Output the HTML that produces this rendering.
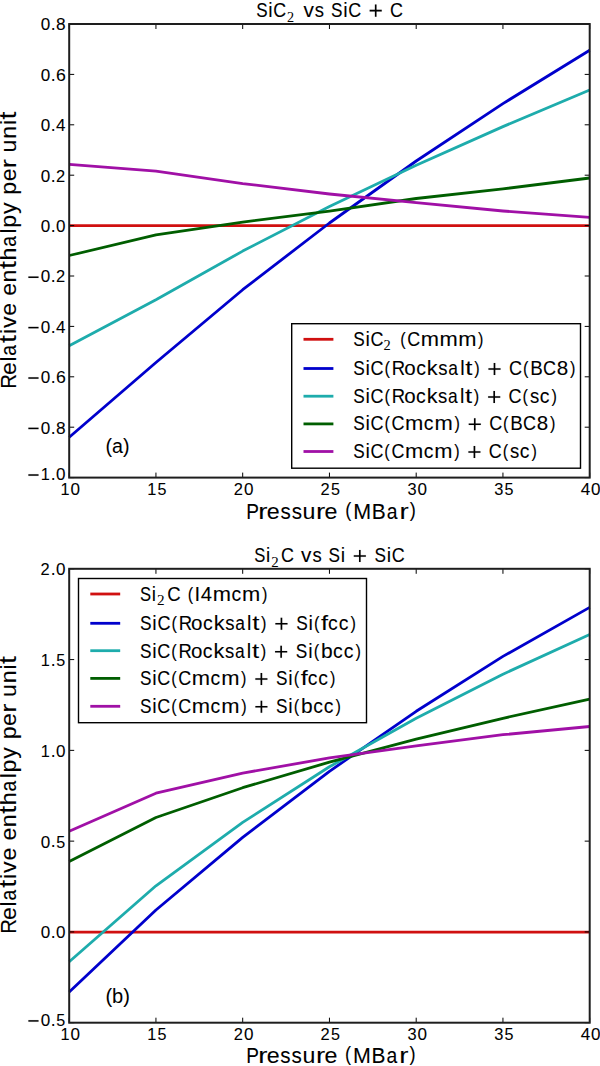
<!DOCTYPE html>
<html><head><meta charset="utf-8"><style>html,body{margin:0;padding:0;background:#fff;overflow:hidden}svg{display:block}</style></head>
<body>
<svg width="600" height="1066" viewBox="0 0 600 1066" font-family="&quot;Liberation Sans&quot;, sans-serif">
<rect width="600" height="1066" fill="#fff"/>
<polyline points="69.20,225.60 155.95,225.60 242.70,225.60 329.45,225.60 416.20,225.60 502.95,225.60 589.70,225.60" fill="none" stroke="#d01010" stroke-width="2.8" stroke-linejoin="round"/>
<polyline points="69.20,437.30 155.95,362.50 242.70,289.70 329.45,223.00 416.20,161.00 502.95,103.60 589.70,50.20" fill="none" stroke="#0000cc" stroke-width="2.8" stroke-linejoin="round"/>
<polyline points="69.20,345.70 155.95,299.70 242.70,251.10 329.45,206.40 416.20,165.20 502.95,126.60 589.70,90.00" fill="none" stroke="#1eacac" stroke-width="2.8" stroke-linejoin="round"/>
<polyline points="69.20,255.50 155.95,234.90 242.70,222.10 329.45,211.10 416.20,198.50 502.95,188.90 589.70,178.00" fill="none" stroke="#005e00" stroke-width="2.8" stroke-linejoin="round"/>
<polyline points="69.20,164.30 155.95,171.10 242.70,183.60 329.45,194.00 416.20,202.70 502.95,211.00 589.70,217.40" fill="none" stroke="#a010a6" stroke-width="2.8" stroke-linejoin="round"/>
<path d="M69.2 24.00h5M589.7 24.00h-5M69.2 74.40h5M589.7 74.40h-5M69.2 124.80h5M589.7 124.80h-5M69.2 175.20h5M589.7 175.20h-5M69.2 225.60h5M589.7 225.60h-5M69.2 276.00h5M589.7 276.00h-5M69.2 326.40h5M589.7 326.40h-5M69.2 376.80h5M589.7 376.80h-5M69.2 427.20h5M589.7 427.20h-5M69.2 477.60h5M589.7 477.60h-5M69.20 24.0v5M69.20 477.6v-5M155.95 24.0v5M155.95 477.6v-5M242.70 24.0v5M242.70 477.6v-5M329.45 24.0v5M329.45 477.6v-5M416.20 24.0v5M416.20 477.6v-5M502.95 24.0v5M502.95 477.6v-5M589.70 24.0v5M589.70 477.6v-5" stroke="#000" stroke-width="1.0" fill="none"/>
<rect x="69.2" y="24.0" width="520.50" height="453.60" fill="none" stroke="#1e1e1e" stroke-width="2.0"/>
<rect x="291.7" y="323.7" width="288.80" height="144.50" fill="#fff" stroke="#000" stroke-width="1.4"/>
<line x1="303.50" y1="339.3" x2="333.40" y2="339.3" stroke="#d01010" stroke-width="2.8"/>
<line x1="303.50" y1="368.5" x2="333.40" y2="368.5" stroke="#0000cc" stroke-width="2.8"/>
<line x1="303.50" y1="396.2" x2="333.40" y2="396.2" stroke="#1eacac" stroke-width="2.8"/>
<line x1="303.50" y1="423.9" x2="333.40" y2="423.9" stroke="#005e00" stroke-width="2.8"/>
<line x1="303.50" y1="451.5" x2="333.40" y2="451.5" stroke="#a010a6" stroke-width="2.8"/>
<polyline points="69.20,932.20 155.95,932.20 242.70,932.20 329.45,932.20 416.20,932.20 502.95,932.20 589.70,932.20" fill="none" stroke="#d01010" stroke-width="2.8" stroke-linejoin="round"/>
<polyline points="69.20,992.10 155.95,910.00 242.70,837.40 329.45,771.30 416.20,711.30 502.95,656.40 589.70,607.40" fill="none" stroke="#0000cc" stroke-width="2.8" stroke-linejoin="round"/>
<polyline points="69.20,961.70 155.95,885.80 242.70,822.40 329.45,766.80 416.20,718.20 502.95,674.20 589.70,634.60" fill="none" stroke="#1eacac" stroke-width="2.8" stroke-linejoin="round"/>
<polyline points="69.20,861.40 155.95,817.50 242.70,787.70 329.45,762.10 416.20,739.20 502.95,718.30 589.70,699.10" fill="none" stroke="#005e00" stroke-width="2.8" stroke-linejoin="round"/>
<polyline points="69.20,831.30 155.95,793.20 242.70,773.10 329.45,757.90 416.20,745.80 502.95,734.70 589.70,726.50" fill="none" stroke="#a010a6" stroke-width="2.8" stroke-linejoin="round"/>
<path d="M69.2 568.80h5M589.7 568.80h-5M69.2 659.58h5M589.7 659.58h-5M69.2 750.36h5M589.7 750.36h-5M69.2 841.14h5M589.7 841.14h-5M69.2 931.92h5M589.7 931.92h-5M69.2 1022.70h5M589.7 1022.70h-5M69.20 568.8v5M69.20 1022.7v-5M155.95 568.8v5M155.95 1022.7v-5M242.70 568.8v5M242.70 1022.7v-5M329.45 568.8v5M329.45 1022.7v-5M416.20 568.8v5M416.20 1022.7v-5M502.95 568.8v5M502.95 1022.7v-5M589.70 568.8v5M589.70 1022.7v-5" stroke="#000" stroke-width="1.0" fill="none"/>
<rect x="69.2" y="568.8" width="520.50" height="453.90" fill="none" stroke="#1e1e1e" stroke-width="2.0"/>
<rect x="78.5" y="578.5" width="288.00" height="144.20" fill="#fff" stroke="#000" stroke-width="1.4"/>
<line x1="90.30" y1="594" x2="120.20" y2="594" stroke="#d01010" stroke-width="2.8"/>
<line x1="90.30" y1="623.3" x2="120.20" y2="623.3" stroke="#0000cc" stroke-width="2.8"/>
<line x1="90.30" y1="650.7" x2="120.20" y2="650.7" stroke="#1eacac" stroke-width="2.8"/>
<line x1="90.30" y1="678.4" x2="120.20" y2="678.4" stroke="#005e00" stroke-width="2.8"/>
<line x1="90.30" y1="706.3" x2="120.20" y2="706.3" stroke="#a010a6" stroke-width="2.8"/>
<g font-size="17.20" fill="#000" stroke="#000" stroke-width="0.08"><g transform="translate(0 30.30)"><text transform="matrix(0.993 0 0 1.006 40.64 0.06)">0</text><text transform="matrix(1.019 0 0 1.092 50.68 0.00)">.</text><text transform="matrix(1.004 0 0 1.006 56.04 0.06)">8</text></g></g>
<g font-size="17.20" fill="#000" stroke="#000" stroke-width="0.08"><g transform="translate(0 80.70)"><text transform="matrix(0.993 0 0 1.006 40.64 0.06)">0</text><text transform="matrix(1.019 0 0 1.092 50.68 0.00)">.</text><text transform="matrix(1.028 0 0 1.006 55.93 0.06)">6</text></g></g>
<g font-size="17.20" fill="#000" stroke="#000" stroke-width="0.08"><g transform="translate(0 131.10)"><text transform="matrix(0.993 0 0 1.006 40.64 0.06)">0</text><text transform="matrix(1.019 0 0 1.092 50.68 0.00)">.</text><text transform="matrix(0.993 0 0 0.998 56.09 0.00)">4</text></g></g>
<g font-size="17.20" fill="#000" stroke="#000" stroke-width="0.08"><g transform="translate(0 181.50)"><text transform="matrix(0.993 0 0 1.006 40.64 0.06)">0</text><text transform="matrix(1.019 0 0 1.092 50.68 0.00)">.</text><text transform="matrix(0.957 0 0 1.001 56.05 0.00)">2</text></g></g>
<g font-size="17.20" fill="#000" stroke="#000" stroke-width="0.08"><g transform="translate(0 231.90)"><text transform="matrix(0.993 0 0 1.006 40.64 0.06)">0</text><text transform="matrix(1.019 0 0 1.092 50.68 0.00)">.</text><text transform="matrix(0.993 0 0 1.006 56.09 0.06)">0</text></g></g>
<g font-size="17.20" fill="#000" stroke="#000" stroke-width="0.08"><g transform="translate(0 282.30)"><path d="M28.38 -5.83H38.52V-4.33H28.38Z"/><text transform="matrix(0.993 0 0 1.006 40.64 0.06)">0</text><text transform="matrix(1.019 0 0 1.092 50.68 0.00)">.</text><text transform="matrix(0.957 0 0 1.001 56.05 0.00)">2</text></g></g>
<g font-size="17.20" fill="#000" stroke="#000" stroke-width="0.08"><g transform="translate(0 332.70)"><path d="M28.38 -5.83H38.52V-4.33H28.38Z"/><text transform="matrix(0.993 0 0 1.006 40.64 0.06)">0</text><text transform="matrix(1.019 0 0 1.092 50.68 0.00)">.</text><text transform="matrix(0.993 0 0 0.998 56.09 0.00)">4</text></g></g>
<g font-size="17.20" fill="#000" stroke="#000" stroke-width="0.08"><g transform="translate(0 383.10)"><path d="M28.38 -5.83H38.52V-4.33H28.38Z"/><text transform="matrix(0.993 0 0 1.006 40.64 0.06)">0</text><text transform="matrix(1.019 0 0 1.092 50.68 0.00)">.</text><text transform="matrix(1.028 0 0 1.006 55.93 0.06)">6</text></g></g>
<g font-size="17.20" fill="#000" stroke="#000" stroke-width="0.08"><g transform="translate(0 433.50)"><path d="M28.38 -5.83H38.52V-4.33H28.38Z"/><text transform="matrix(0.993 0 0 1.006 40.64 0.06)">0</text><text transform="matrix(1.019 0 0 1.092 50.68 0.00)">.</text><text transform="matrix(1.004 0 0 1.006 56.04 0.06)">8</text></g></g>
<g font-size="17.20" fill="#000" stroke="#000" stroke-width="0.08"><g transform="translate(0 480.10)"><path d="M28.38 -5.83H38.52V-4.33H28.38Z"/><text transform="matrix(0.948 0 0 0.998 40.77 0.00)">1</text><text transform="matrix(1.019 0 0 1.092 50.68 0.00)">.</text><text transform="matrix(0.993 0 0 1.006 56.09 0.06)">0</text></g></g>
<g font-size="17.20" fill="#000" stroke="#000" stroke-width="0.08"><g transform="translate(0 495.00)"><text transform="matrix(0.948 0 0 0.998 60.43 0.00)">1</text><text transform="matrix(0.993 0 0 1.006 70.60 0.06)">0</text></g></g>
<g font-size="17.20" fill="#000" stroke="#000" stroke-width="0.08"><g transform="translate(0 495.00)"><text transform="matrix(0.948 0 0 0.998 147.18 0.00)">1</text><text transform="matrix(0.937 0 0 1.003 157.55 0.06)">5</text></g></g>
<g font-size="17.20" fill="#000" stroke="#000" stroke-width="0.08"><g transform="translate(0 495.00)"><text transform="matrix(0.957 0 0 1.001 233.75 0.00)">2</text><text transform="matrix(0.993 0 0 1.006 244.10 0.06)">0</text></g></g>
<g font-size="17.20" fill="#000" stroke="#000" stroke-width="0.08"><g transform="translate(0 495.00)"><text transform="matrix(0.957 0 0 1.001 320.50 0.00)">2</text><text transform="matrix(0.937 0 0 1.003 331.05 0.06)">5</text></g></g>
<g font-size="17.20" fill="#000" stroke="#000" stroke-width="0.08"><g transform="translate(0 495.00)"><text transform="matrix(0.954 0 0 1.006 407.50 0.06)">3</text><text transform="matrix(0.993 0 0 1.006 417.60 0.06)">0</text></g></g>
<g font-size="17.20" fill="#000" stroke="#000" stroke-width="0.08"><g transform="translate(0 495.00)"><text transform="matrix(0.954 0 0 1.006 494.25 0.06)">3</text><text transform="matrix(0.937 0 0 1.003 504.55 0.06)">5</text></g></g>
<g font-size="17.20" fill="#000" stroke="#000" stroke-width="0.08"><g transform="translate(0 495.00)"><text transform="matrix(0.993 0 0 0.998 580.79 0.00)">4</text><text transform="matrix(0.993 0 0 1.006 591.10 0.06)">0</text></g></g>
<g font-size="20.20" fill="#000" stroke="#000" stroke-width="0.08"><g transform="translate(0 16.70)"><text transform="matrix(0.844 0 0 1.021 256.23 0.07)">S</text><text transform="matrix(0.967 0 0 1.002 268.37 0.00)">i</text><text transform="matrix(0.879 0 0 1.021 273.36 0.07)">C</text></g></g>
<text x="286.88" y="21.60" font-size="14.50" font-family="&quot;Liberation Serif&quot;, serif" textLength="7.11" lengthAdjust="spacingAndGlyphs" fill="#000">2</text>
<g font-size="20.20" fill="#000" stroke="#000" stroke-width="0.08"><g transform="translate(0 16.70)"><text transform="matrix(1.029 0 0 0.989 303.43 0.00)">v</text><text transform="matrix(0.914 0 0 1.004 314.86 0.08)">s</text><text transform="matrix(0.850 0 0 1.021 330.97 0.07)">S</text><text transform="matrix(0.975 0 0 1.002 343.21 0.00)">i</text><text transform="matrix(0.885 0 0 1.021 348.23 0.07)">C</text><path d="M369.67 -6.85H381.73V-5.25H369.67ZM374.90 -12.10H376.50V0H374.90Z"/><text transform="matrix(0.885 0 0 1.021 390.07 0.07)">C</text></g></g>
<g font-size="19.80" fill="#000" stroke="#000" stroke-width="0.08"><g transform="translate(0 346.00)"><text transform="matrix(0.869 0 0 1.041 353.22 0.07)">S</text><text transform="matrix(0.996 0 0 1.022 365.48 0.00)">i</text><text transform="matrix(0.905 0 0 1.041 370.51 0.07)">C</text></g></g>
<text x="383.56" y="350.30" font-size="14.50" font-family="&quot;Liberation Serif&quot;, serif" textLength="7.23" lengthAdjust="spacingAndGlyphs" fill="#000">2</text>
<g font-size="19.80" fill="#000" stroke="#000" stroke-width="0.08"><g transform="translate(0 346.00)"><text transform="matrix(0.821 0 0 0.932 400.19 -1.28)">(</text><text transform="matrix(0.901 0 0 1.041 407.22 0.07)">C</text><text transform="matrix(1.106 0 0 1.015 420.76 0.00)">m</text><text transform="matrix(1.106 0 0 1.015 439.49 0.00)">m</text><text transform="matrix(1.106 0 0 1.015 458.22 0.00)">m</text><text transform="matrix(0.821 0 0 0.932 478.10 -1.28)">)</text></g></g>
<g font-size="19.80" fill="#000" stroke="#000" stroke-width="0.08"><g transform="translate(0 375.00)"><text transform="matrix(0.872 0 0 1.041 353.22 0.07)">S</text><text transform="matrix(1.000 0 0 1.022 365.51 0.00)">i</text><text transform="matrix(0.908 0 0 1.041 370.57 0.07)">C</text><text transform="matrix(0.827 0 0 0.932 384.56 -1.28)">(</text><text transform="matrix(0.935 0 0 1.033 391.85 0.00)">R</text><text transform="matrix(1.040 0 0 1.022 404.25 0.08)">o</text><text transform="matrix(0.981 0 0 1.022 416.14 0.08)">c</text><text transform="matrix(1.093 0 0 1.022 426.84 0.00)">k</text><text transform="matrix(0.937 0 0 1.024 438.28 0.08)">s</text><text transform="matrix(0.879 0 0 1.022 448.26 0.08)">a</text><text transform="matrix(1.000 0 0 1.022 460.19 0.00)">l</text><text transform="matrix(1.307 0 0 1.046 465.21 -0.16)">t</text><text transform="matrix(0.827 0 0 0.932 474.13 -1.28)">)</text><path d="M488.43 -6.85H500.55V-5.25H488.43ZM493.69 -12.10H495.29V0H493.69Z"/><text transform="matrix(0.908 0 0 1.041 508.93 0.07)">C</text><text transform="matrix(0.827 0 0 0.932 522.93 -1.28)">(</text><text transform="matrix(0.950 0 0 1.033 530.19 0.00)">B</text><text transform="matrix(0.908 0 0 1.041 542.95 0.07)">C</text><text transform="matrix(1.042 0 0 1.041 556.71 0.07)">8</text><text transform="matrix(0.827 0 0 0.932 570.06 -1.28)">)</text></g></g>
<g font-size="19.80" fill="#000" stroke="#000" stroke-width="0.08"><g transform="translate(0 403.00)"><text transform="matrix(0.870 0 0 1.041 353.22 0.07)">S</text><text transform="matrix(0.997 0 0 1.022 365.49 0.00)">i</text><text transform="matrix(0.906 0 0 1.041 370.53 0.07)">C</text><text transform="matrix(0.825 0 0 0.932 384.49 -1.28)">(</text><text transform="matrix(0.933 0 0 1.033 391.76 0.00)">R</text><text transform="matrix(1.037 0 0 1.022 404.14 0.08)">o</text><text transform="matrix(0.979 0 0 1.022 416.00 0.08)">c</text><text transform="matrix(1.091 0 0 1.022 426.68 0.00)">k</text><text transform="matrix(0.935 0 0 1.024 438.10 0.08)">s</text><text transform="matrix(0.877 0 0 1.022 448.05 0.08)">a</text><text transform="matrix(0.997 0 0 1.022 459.96 0.00)">l</text><text transform="matrix(1.304 0 0 1.046 464.96 -0.16)">t</text><text transform="matrix(0.825 0 0 0.932 473.86 -1.28)">)</text><path d="M488.13 -6.85H500.22V-5.25H488.13ZM493.38 -12.10H494.98V0H493.38Z"/><text transform="matrix(0.906 0 0 1.041 508.59 0.07)">C</text><text transform="matrix(0.825 0 0 0.932 522.55 -1.28)">(</text><text transform="matrix(0.935 0 0 1.024 529.97 0.08)">s</text><text transform="matrix(0.979 0 0 1.022 539.74 0.08)">c</text><text transform="matrix(0.825 0 0 0.932 551.57 -1.28)">)</text></g></g>
<g font-size="19.80" fill="#000" stroke="#000" stroke-width="0.08"><g transform="translate(0 430.30)"><text transform="matrix(0.869 0 0 1.041 353.22 0.07)">S</text><text transform="matrix(0.996 0 0 1.022 365.48 0.00)">i</text><text transform="matrix(0.905 0 0 1.041 370.51 0.07)">C</text><text transform="matrix(0.824 0 0 0.932 384.46 -1.28)">(</text><text transform="matrix(0.905 0 0 1.041 391.51 0.07)">C</text><text transform="matrix(1.110 0 0 1.015 405.11 0.00)">m</text><text transform="matrix(0.978 0 0 1.022 423.85 0.08)">c</text><text transform="matrix(1.110 0 0 1.015 434.51 0.00)">m</text><text transform="matrix(0.824 0 0 0.932 454.47 -1.28)">)</text><path d="M468.72 -6.85H480.80V-5.25H468.72ZM473.96 -12.10H475.56V0H473.96Z"/><text transform="matrix(0.905 0 0 1.041 489.15 0.07)">C</text><text transform="matrix(0.824 0 0 0.932 503.10 -1.28)">(</text><text transform="matrix(0.947 0 0 1.033 510.34 0.00)">B</text><text transform="matrix(0.905 0 0 1.041 523.05 0.07)">C</text><text transform="matrix(1.038 0 0 1.041 536.77 0.07)">8</text><text transform="matrix(0.824 0 0 0.932 550.08 -1.28)">)</text></g></g>
<g font-size="19.80" fill="#000" stroke="#000" stroke-width="0.08"><g transform="translate(0 458.00)"><text transform="matrix(0.866 0 0 1.041 353.22 0.07)">S</text><text transform="matrix(0.993 0 0 1.022 365.44 0.00)">i</text><text transform="matrix(0.902 0 0 1.041 370.47 0.07)">C</text><text transform="matrix(0.821 0 0 0.932 384.37 -1.28)">(</text><text transform="matrix(0.902 0 0 1.041 391.41 0.07)">C</text><text transform="matrix(1.107 0 0 1.015 404.96 0.00)">m</text><text transform="matrix(0.975 0 0 1.022 423.66 0.08)">c</text><text transform="matrix(1.107 0 0 1.015 434.28 0.00)">m</text><text transform="matrix(0.821 0 0 0.932 454.18 -1.28)">)</text><path d="M468.40 -6.85H480.44V-5.25H468.40ZM473.62 -12.10H475.22V0H473.62Z"/><text transform="matrix(0.902 0 0 1.041 488.77 0.07)">C</text><text transform="matrix(0.821 0 0 0.932 502.68 -1.28)">(</text><text transform="matrix(0.932 0 0 1.024 510.07 0.08)">s</text><text transform="matrix(0.975 0 0 1.022 519.81 0.08)">c</text><text transform="matrix(0.821 0 0 0.932 531.59 -1.28)">)</text></g></g>
<text x="105.48" y="453.00" font-size="20.00" font-family="&quot;Liberation Sans&quot;, sans-serif" textLength="24.04" lengthAdjust="spacingAndGlyphs" fill="#000">(a)</text>
<g font-size="21.50" fill="#000" stroke="#000" stroke-width="0.08"><g transform="translate(0 518.50)"><text transform="matrix(0.886 0 0 1.057 246.14 0.00)">P</text><text transform="matrix(1.284 0 0 1.038 258.32 0.00)">r</text><text transform="matrix(1.082 0 0 1.046 266.78 0.08)">e</text><text transform="matrix(0.960 0 0 1.048 280.43 0.08)">s</text><text transform="matrix(0.960 0 0 1.048 291.65 0.08)">s</text><text transform="matrix(1.080 0 0 1.065 302.60 0.08)">u</text><text transform="matrix(1.284 0 0 1.038 316.06 0.00)">r</text><text transform="matrix(1.082 0 0 1.046 324.52 0.08)">e</text><text transform="matrix(0.847 0 0 0.954 345.14 -1.42)">(</text><text transform="matrix(0.999 0 0 1.057 353.18 0.00)">M</text><text transform="matrix(0.973 0 0 1.057 371.81 0.00)">B</text><text transform="matrix(0.901 0 0 1.046 386.66 0.08)">a</text><text transform="matrix(1.284 0 0 1.038 399.51 0.00)">r</text><text transform="matrix(0.847 0 0 0.954 409.87 -1.42)">)</text></g></g>
<g font-size="17.20" fill="#000" stroke="#000" stroke-width="0.08"><g transform="translate(0 575.10)"><text transform="matrix(0.957 0 0 1.001 40.60 0.00)">2</text><text transform="matrix(1.019 0 0 1.092 50.68 0.00)">.</text><text transform="matrix(0.993 0 0 1.006 56.09 0.06)">0</text></g></g>
<g font-size="17.20" fill="#000" stroke="#000" stroke-width="0.08"><g transform="translate(0 665.88)"><text transform="matrix(0.948 0 0 0.998 40.77 0.00)">1</text><text transform="matrix(1.019 0 0 1.092 50.68 0.00)">.</text><text transform="matrix(0.937 0 0 1.003 56.30 0.06)">5</text></g></g>
<g font-size="17.20" fill="#000" stroke="#000" stroke-width="0.08"><g transform="translate(0 756.66)"><text transform="matrix(0.948 0 0 0.998 40.77 0.00)">1</text><text transform="matrix(1.019 0 0 1.092 50.68 0.00)">.</text><text transform="matrix(0.993 0 0 1.006 56.09 0.06)">0</text></g></g>
<g font-size="17.20" fill="#000" stroke="#000" stroke-width="0.08"><g transform="translate(0 847.44)"><text transform="matrix(0.993 0 0 1.006 40.64 0.06)">0</text><text transform="matrix(1.019 0 0 1.092 50.68 0.00)">.</text><text transform="matrix(0.937 0 0 1.003 56.30 0.06)">5</text></g></g>
<g font-size="17.20" fill="#000" stroke="#000" stroke-width="0.08"><g transform="translate(0 938.22)"><text transform="matrix(0.993 0 0 1.006 40.64 0.06)">0</text><text transform="matrix(1.019 0 0 1.092 50.68 0.00)">.</text><text transform="matrix(0.993 0 0 1.006 56.09 0.06)">0</text></g></g>
<g font-size="17.20" fill="#000" stroke="#000" stroke-width="0.08"><g transform="translate(0 1026.00)"><path d="M28.38 -5.83H38.52V-4.33H28.38Z"/><text transform="matrix(0.993 0 0 1.006 40.64 0.06)">0</text><text transform="matrix(1.019 0 0 1.092 50.68 0.00)">.</text><text transform="matrix(0.937 0 0 1.003 56.30 0.06)">5</text></g></g>
<g font-size="17.20" fill="#000" stroke="#000" stroke-width="0.08"><g transform="translate(0 1040.00)"><text transform="matrix(0.948 0 0 0.998 60.43 0.00)">1</text><text transform="matrix(0.993 0 0 1.006 70.60 0.06)">0</text></g></g>
<g font-size="17.20" fill="#000" stroke="#000" stroke-width="0.08"><g transform="translate(0 1040.00)"><text transform="matrix(0.948 0 0 0.998 147.18 0.00)">1</text><text transform="matrix(0.937 0 0 1.003 157.55 0.06)">5</text></g></g>
<g font-size="17.20" fill="#000" stroke="#000" stroke-width="0.08"><g transform="translate(0 1040.00)"><text transform="matrix(0.957 0 0 1.001 233.75 0.00)">2</text><text transform="matrix(0.993 0 0 1.006 244.10 0.06)">0</text></g></g>
<g font-size="17.20" fill="#000" stroke="#000" stroke-width="0.08"><g transform="translate(0 1040.00)"><text transform="matrix(0.957 0 0 1.001 320.50 0.00)">2</text><text transform="matrix(0.937 0 0 1.003 331.05 0.06)">5</text></g></g>
<g font-size="17.20" fill="#000" stroke="#000" stroke-width="0.08"><g transform="translate(0 1040.00)"><text transform="matrix(0.954 0 0 1.006 407.50 0.06)">3</text><text transform="matrix(0.993 0 0 1.006 417.60 0.06)">0</text></g></g>
<g font-size="17.20" fill="#000" stroke="#000" stroke-width="0.08"><g transform="translate(0 1040.00)"><text transform="matrix(0.954 0 0 1.006 494.25 0.06)">3</text><text transform="matrix(0.937 0 0 1.003 504.55 0.06)">5</text></g></g>
<g font-size="17.20" fill="#000" stroke="#000" stroke-width="0.08"><g transform="translate(0 1040.00)"><text transform="matrix(0.993 0 0 0.998 580.79 0.00)">4</text><text transform="matrix(0.993 0 0 1.006 591.10 0.06)">0</text></g></g>
<g font-size="20.20" fill="#000" stroke="#000" stroke-width="0.08"><g transform="translate(0 562.00)"><text transform="matrix(0.821 0 0 1.021 254.25 0.07)">S</text><text transform="matrix(0.941 0 0 1.002 266.06 0.00)">i</text></g></g>
<text x="271.34" y="566.50" font-size="14.50" font-family="&quot;Liberation Serif&quot;, serif" textLength="7.48" lengthAdjust="spacingAndGlyphs" fill="#000">2</text>
<g font-size="20.20" fill="#000" stroke="#000" stroke-width="0.08"><g transform="translate(0 562.00)"><text transform="matrix(0.885 0 0 1.021 281.09 0.07)">C</text><text transform="matrix(1.029 0 0 0.989 300.99 0.00)">v</text><text transform="matrix(0.914 0 0 1.004 312.42 0.08)">s</text><text transform="matrix(0.850 0 0 1.021 328.54 0.07)">S</text><text transform="matrix(0.975 0 0 1.002 340.78 0.00)">i</text><path d="M353.79 -6.85H365.85V-5.25H353.79ZM359.02 -12.10H360.62V0H359.02Z"/><text transform="matrix(0.850 0 0 1.021 374.50 0.07)">S</text><text transform="matrix(0.975 0 0 1.002 386.74 0.00)">i</text><text transform="matrix(0.885 0 0 1.021 391.77 0.07)">C</text></g></g>
<g font-size="19.80" fill="#000" stroke="#000" stroke-width="0.08"><g transform="translate(0 600.80)"><text transform="matrix(0.837 0 0 1.041 140.05 0.07)">S</text><text transform="matrix(0.960 0 0 1.022 151.86 0.00)">i</text></g></g>
<text x="157.13" y="605.10" font-size="14.50" font-family="&quot;Liberation Serif&quot;, serif" textLength="7.61" lengthAdjust="spacingAndGlyphs" fill="#000">2</text>
<g font-size="19.80" fill="#000" stroke="#000" stroke-width="0.08"><g transform="translate(0 600.80)"><text transform="matrix(0.933 0 0 1.041 167.36 0.07)">C</text></g></g>
<g font-size="19.80" fill="#000" stroke="#000" stroke-width="0.08"><g transform="translate(0 600.80)"><text transform="matrix(0.821 0 0 0.932 187.69 -1.28)">(</text><text transform="matrix(1.027 0 0 1.033 194.56 0.00)">I</text><text transform="matrix(1.023 0 0 1.033 200.69 0.00)">4</text><text transform="matrix(1.106 0 0 1.015 212.73 0.00)">m</text><text transform="matrix(0.974 0 0 1.022 231.41 0.08)">c</text><text transform="matrix(1.106 0 0 1.015 242.02 0.00)">m</text><text transform="matrix(0.821 0 0 0.932 261.90 -1.28)">)</text></g></g>
<g font-size="19.80" fill="#000" stroke="#000" stroke-width="0.08"><g transform="translate(0 629.80)"><text transform="matrix(0.873 0 0 1.041 140.02 0.07)">S</text><text transform="matrix(1.001 0 0 1.022 152.33 0.00)">i</text><text transform="matrix(0.909 0 0 1.041 157.38 0.07)">C</text><text transform="matrix(0.827 0 0 0.932 171.39 -1.28)">(</text><text transform="matrix(0.936 0 0 1.033 178.69 0.00)">R</text><text transform="matrix(1.041 0 0 1.022 191.10 0.08)">o</text><text transform="matrix(0.982 0 0 1.022 203.00 0.08)">c</text><text transform="matrix(1.094 0 0 1.022 213.71 0.00)">k</text><text transform="matrix(0.938 0 0 1.024 225.17 0.08)">s</text><text transform="matrix(0.880 0 0 1.022 235.16 0.08)">a</text><text transform="matrix(1.001 0 0 1.022 247.10 0.00)">l</text><text transform="matrix(1.308 0 0 1.046 252.13 -0.16)">t</text><text transform="matrix(0.827 0 0 0.932 261.05 -1.28)">)</text><path d="M275.37 -6.85H287.51V-5.25H275.37ZM280.64 -12.10H282.24V0H280.64Z"/><text transform="matrix(0.873 0 0 1.041 296.21 0.07)">S</text><text transform="matrix(1.001 0 0 1.022 308.52 0.00)">i</text><text transform="matrix(0.827 0 0 0.932 314.06 -1.28)">(</text><text transform="matrix(1.285 0 0 1.023 321.05 0.00)">f</text><text transform="matrix(0.982 0 0 1.022 328.04 0.08)">c</text><text transform="matrix(0.982 0 0 1.022 338.69 0.08)">c</text><text transform="matrix(0.827 0 0 0.932 350.56 -1.28)">)</text></g></g>
<g font-size="19.80" fill="#000" stroke="#000" stroke-width="0.08"><g transform="translate(0 657.80)"><text transform="matrix(0.871 0 0 1.041 140.02 0.07)">S</text><text transform="matrix(0.998 0 0 1.022 152.30 0.00)">i</text><text transform="matrix(0.907 0 0 1.041 157.35 0.07)">C</text><text transform="matrix(0.826 0 0 0.932 171.33 -1.28)">(</text><text transform="matrix(0.934 0 0 1.033 178.60 0.00)">R</text><text transform="matrix(1.038 0 0 1.022 190.99 0.08)">o</text><text transform="matrix(0.980 0 0 1.022 202.87 0.08)">c</text><text transform="matrix(1.092 0 0 1.022 213.56 0.00)">k</text><text transform="matrix(0.936 0 0 1.024 224.99 0.08)">s</text><text transform="matrix(0.878 0 0 1.022 234.95 0.08)">a</text><text transform="matrix(0.998 0 0 1.022 246.87 0.00)">l</text><text transform="matrix(1.305 0 0 1.046 251.88 -0.16)">t</text><text transform="matrix(0.826 0 0 0.932 260.79 -1.28)">)</text><path d="M275.08 -6.85H287.19V-5.25H275.08ZM280.33 -12.10H281.93V0H280.33Z"/><text transform="matrix(0.871 0 0 1.041 295.87 0.07)">S</text><text transform="matrix(0.998 0 0 1.022 308.16 0.00)">i</text><text transform="matrix(0.826 0 0 0.932 313.68 -1.28)">(</text><text transform="matrix(1.063 0 0 1.027 320.98 0.07)">b</text><text transform="matrix(0.980 0 0 1.022 333.09 0.08)">c</text><text transform="matrix(0.980 0 0 1.022 343.73 0.08)">c</text><text transform="matrix(0.826 0 0 0.932 355.57 -1.28)">)</text></g></g>
<g font-size="19.80" fill="#000" stroke="#000" stroke-width="0.08"><g transform="translate(0 685.10)"><text transform="matrix(0.867 0 0 1.041 140.02 0.07)">S</text><text transform="matrix(0.995 0 0 1.022 152.26 0.00)">i</text><text transform="matrix(0.903 0 0 1.041 157.29 0.07)">C</text><text transform="matrix(0.823 0 0 0.932 171.21 -1.28)">(</text><text transform="matrix(0.903 0 0 1.041 178.26 0.07)">C</text><text transform="matrix(1.109 0 0 1.015 191.83 0.00)">m</text><text transform="matrix(0.976 0 0 1.022 210.54 0.08)">c</text><text transform="matrix(1.109 0 0 1.015 221.19 0.00)">m</text><text transform="matrix(0.823 0 0 0.932 241.11 -1.28)">)</text><path d="M255.35 -6.85H267.41V-5.25H255.35ZM260.57 -12.10H262.18V0H260.57Z"/><text transform="matrix(0.867 0 0 1.041 276.06 0.07)">S</text><text transform="matrix(0.995 0 0 1.022 288.30 0.00)">i</text><text transform="matrix(0.823 0 0 0.932 293.80 -1.28)">(</text><text transform="matrix(1.278 0 0 1.023 300.75 0.00)">f</text><text transform="matrix(0.976 0 0 1.022 307.70 0.08)">c</text><text transform="matrix(0.976 0 0 1.022 318.29 0.08)">c</text><text transform="matrix(0.823 0 0 0.932 330.09 -1.28)">)</text></g></g>
<g font-size="19.80" fill="#000" stroke="#000" stroke-width="0.08"><g transform="translate(0 712.80)"><text transform="matrix(0.868 0 0 1.041 140.02 0.07)">S</text><text transform="matrix(0.995 0 0 1.022 152.26 0.00)">i</text><text transform="matrix(0.904 0 0 1.041 157.29 0.07)">C</text><text transform="matrix(0.823 0 0 0.932 171.22 -1.28)">(</text><text transform="matrix(0.904 0 0 1.041 178.27 0.07)">C</text><text transform="matrix(1.109 0 0 1.015 191.84 0.00)">m</text><text transform="matrix(0.977 0 0 1.022 210.56 0.08)">c</text><text transform="matrix(1.109 0 0 1.015 221.21 0.00)">m</text><text transform="matrix(0.823 0 0 0.932 241.14 -1.28)">)</text><path d="M255.38 -6.85H267.44V-5.25H255.38ZM260.61 -12.10H262.21V0H260.61Z"/><text transform="matrix(0.868 0 0 1.041 276.10 0.07)">S</text><text transform="matrix(0.995 0 0 1.022 288.34 0.00)">i</text><text transform="matrix(0.823 0 0 0.932 293.84 -1.28)">(</text><text transform="matrix(1.059 0 0 1.027 301.11 0.07)">b</text><text transform="matrix(0.977 0 0 1.022 313.19 0.08)">c</text><text transform="matrix(0.977 0 0 1.022 323.78 0.08)">c</text><text transform="matrix(0.823 0 0 0.932 335.59 -1.28)">)</text></g></g>
<text x="105.45" y="1002.50" font-size="20.00" font-family="&quot;Liberation Sans&quot;, sans-serif" textLength="24.54" lengthAdjust="spacingAndGlyphs" fill="#000">(b)</text>
<g font-size="21.50" fill="#000" stroke="#000" stroke-width="0.08"><g transform="translate(0 1062.70)"><text transform="matrix(0.885 0 0 1.057 246.14 0.00)">P</text><text transform="matrix(1.281 0 0 1.038 258.30 0.00)">r</text><text transform="matrix(1.080 0 0 1.046 266.75 0.08)">e</text><text transform="matrix(0.959 0 0 1.048 280.37 0.08)">s</text><text transform="matrix(0.959 0 0 1.048 291.57 0.08)">s</text><text transform="matrix(1.078 0 0 1.065 302.50 0.08)">u</text><text transform="matrix(1.281 0 0 1.038 315.94 0.00)">r</text><text transform="matrix(1.080 0 0 1.046 324.38 0.08)">e</text><text transform="matrix(0.845 0 0 0.954 344.97 -1.42)">(</text><text transform="matrix(0.997 0 0 1.057 352.99 0.00)">M</text><text transform="matrix(0.972 0 0 1.057 371.58 0.00)">B</text><text transform="matrix(0.899 0 0 1.046 386.41 0.08)">a</text><text transform="matrix(1.281 0 0 1.038 399.24 0.00)">r</text><text transform="matrix(0.845 0 0 0.954 409.57 -1.42)">)</text></g></g>
<g transform="rotate(-90 16.0 300.0)"><g font-size="21.50" fill="#000" stroke="#000" stroke-width="0.08"><g transform="translate(0 300.00)"><text transform="matrix(0.953 0 0 1.057 -72.78 0.00)">R</text><text transform="matrix(1.076 0 0 1.046 -59.08 0.08)">e</text><text transform="matrix(1.019 0 0 1.046 -45.56 0.00)">l</text><text transform="matrix(0.896 0 0 1.046 -39.68 0.08)">a</text><text transform="matrix(1.332 0 0 1.071 -26.88 -0.18)">t</text><text transform="matrix(1.019 0 0 1.046 -18.06 0.00)">i</text><text transform="matrix(1.075 0 0 1.033 -12.11 -0.00)">v</text><text transform="matrix(1.076 0 0 1.046 0.21 0.08)">e</text><text transform="matrix(1.076 0 0 1.046 20.20 0.08)">e</text><text transform="matrix(1.074 0 0 1.038 33.59 0.00)">n</text><text transform="matrix(1.332 0 0 1.071 46.90 -0.18)">t</text><text transform="matrix(1.082 0 0 1.046 55.49 0.00)">h</text><text transform="matrix(0.896 0 0 1.046 69.21 0.08)">a</text><text transform="matrix(1.019 0 0 1.046 82.41 0.00)">l</text><text transform="matrix(1.084 0 0 1.028 88.26 -0.13)">p</text><text transform="matrix(1.070 0 0 1.023 102.00 -0.10)">y</text><text transform="matrix(1.084 0 0 1.028 121.35 -0.13)">p</text><text transform="matrix(1.076 0 0 1.046 134.70 0.08)">e</text><text transform="matrix(1.277 0 0 1.038 147.81 0.00)">r</text><text transform="matrix(1.074 0 0 1.065 163.62 0.08)">u</text><text transform="matrix(1.074 0 0 1.038 177.29 0.00)">n</text><text transform="matrix(1.019 0 0 1.046 191.01 0.00)">i</text><text transform="matrix(1.332 0 0 1.071 196.55 -0.18)">t</text></g></g></g>
<g transform="rotate(-90 16.0 300.0)"><g font-size="21.50" fill="#000" stroke="#000" stroke-width="0.08"><g transform="translate(0 300.00)"><text transform="matrix(0.954 0 0 1.057 -617.68 0.00)">R</text><text transform="matrix(1.077 0 0 1.046 -603.97 0.08)">e</text><text transform="matrix(1.020 0 0 1.046 -590.43 0.00)">l</text><text transform="matrix(0.897 0 0 1.046 -584.54 0.08)">a</text><text transform="matrix(1.333 0 0 1.071 -571.73 -0.18)">t</text><text transform="matrix(1.020 0 0 1.046 -562.91 0.00)">i</text><text transform="matrix(1.077 0 0 1.033 -556.94 -0.00)">v</text><text transform="matrix(1.077 0 0 1.046 -544.61 0.08)">e</text><text transform="matrix(1.077 0 0 1.046 -524.60 0.08)">e</text><text transform="matrix(1.076 0 0 1.038 -511.19 0.00)">n</text><text transform="matrix(1.333 0 0 1.071 -497.87 -0.18)">t</text><text transform="matrix(1.083 0 0 1.046 -489.27 0.00)">h</text><text transform="matrix(0.897 0 0 1.046 -475.54 0.08)">a</text><text transform="matrix(1.020 0 0 1.046 -462.32 0.00)">l</text><text transform="matrix(1.085 0 0 1.028 -456.46 -0.13)">p</text><text transform="matrix(1.071 0 0 1.023 -442.71 -0.10)">y</text><text transform="matrix(1.085 0 0 1.028 -423.34 -0.13)">p</text><text transform="matrix(1.077 0 0 1.046 -409.97 0.08)">e</text><text transform="matrix(1.278 0 0 1.038 -396.85 0.00)">r</text><text transform="matrix(1.076 0 0 1.065 -381.02 0.08)">u</text><text transform="matrix(1.076 0 0 1.038 -367.34 0.00)">n</text><text transform="matrix(1.020 0 0 1.046 -353.60 0.00)">i</text><text transform="matrix(1.333 0 0 1.071 -348.05 -0.18)">t</text></g></g></g>
</svg>
</body></html>
